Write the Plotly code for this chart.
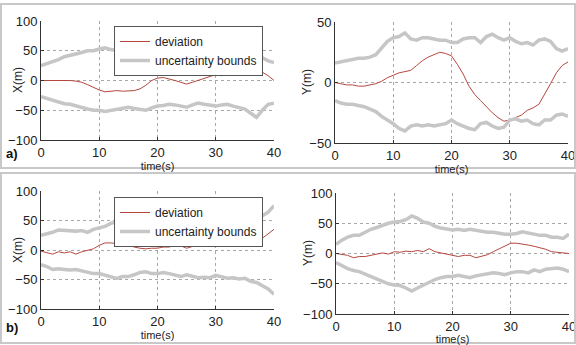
import plotly.graph_objects as go

t = list(range(41))

# a) X
dev_ax = [0, 0, 1, 0, 1, 0, -1, -3, -7, -12, -16, -19, -18, -17, -18, -18, -17, -14, -8, 0,
          4, 5, 3, 0, -3, -6, -3, 0, 3, 6, 10, 8, 12, 16, 19, 23, 26, 20, 15, 8, 0]
up_ax = [25, 28, 32, 35, 40, 42, 45, 47, 50, 50, 53, 55, 52, 50, 48, 47, 48, 49, 50, 47,
         44, 42, 41, 43, 45, 44, 40, 39, 41, 43, 42, 41, 40, 44, 47, 50, 55, 50, 38, 33, 30]
lo_ax = [-27, -30, -33, -37, -39, -40, -43, -46, -48, -50, -50, -52, -50, -48, -47, -45, -47, -48, -50, -46,
         -43, -42, -40, -41, -43, -45, -41, -38, -40, -42, -43, -41, -40, -43, -46, -48, -55, -62, -50, -40, -38]

# a) Y
dev_ay = [0, -1, -2, -2, -3, -3, -2, -1, 1, 4, 6, 8, 9, 10, 14, 18, 21, 23, 25, 24,
          22, 15, 7, -3, -10, -15, -20, -25, -29, -32, -31, -29, -27, -23, -21, -18, -10, -1, 8, 14, 17]
up_ay = [16, 17, 18, 19, 20, 20, 21, 23, 28, 34, 37, 38, 41, 36, 35, 37, 37, 36, 35, 35,
         33, 33, 36, 37, 37, 33, 38, 40, 37, 35, 37, 34, 32, 33, 31, 35, 36, 34, 28, 26, 28]
lo_ay = [-15, -17, -18, -18, -19, -20, -22, -24, -28, -31, -34, -38, -40, -36, -35, -36, -35, -36, -35, -34,
         -31, -34, -36, -38, -39, -34, -33, -36, -38, -37, -31, -30, -32, -31, -34, -35, -31, -31, -27, -26, -28]

# b) X
dev_bx = [-2, -4, -7, -3, -5, -3, -7, -3, 0, 2, 8, 12, 12, 11, 12, 8, 5, 3, 2, 3,
          3, 5, 5, 8, 7, 3, 6, 11, 18, 17, 17, 15, 17, 12, 14, 15, 20, 22, 20, 27, 35]
up_bx = [25, 27, 30, 34, 33, 32, 32, 33, 30, 35, 38, 40, 45, 48, 46, 45, 42, 40, 38, 40,
         40, 39, 40, 43, 45, 43, 44, 47, 46, 47, 44, 45, 48, 47, 49, 48, 52, 55, 58, 64, 75]
lo_bx = [-25, -28, -33, -32, -33, -34, -33, -35, -38, -40, -40, -43, -46, -48, -45, -45, -42, -38, -37, -40,
         -40, -38, -40, -43, -45, -42, -44, -47, -46, -47, -43, -45, -48, -47, -49, -48, -53, -55, -60, -66, -75]

# b) Y
dev_by = [0, -1, -3, -7, -5, -5, -3, -2, 1, -1, 3, 2, 4, 3, 5, 3, 8, 3, 1, -1,
          -2, -5, -3, -3, -7, -4, -2, 3, 8, 13, 17, 17, 16, 14, 12, 10, 7, 3, 2, 0, 0]
up_by = [15, 22, 27, 30, 30, 35, 40, 43, 47, 50, 52, 53, 56, 62, 58, 52, 50, 45, 42, 40,
         39, 40, 38, 40, 38, 37, 35, 35, 33, 32, 32, 33, 36, 34, 32, 30, 30, 27, 27, 25, 32]
lo_by = [-15, -20, -25, -28, -30, -34, -38, -42, -46, -50, -52, -53, -57, -62, -57, -52, -48, -43, -40, -38,
         -38, -36, -38, -40, -37, -35, -33, -32, -33, -35, -32, -30, -30, -32, -27, -30, -26, -25, -24, -26, -30]

x_ticks = [0, 10, 20, 30, 40]
names = ["deviation", "uncertainty bounds"]
y_titles = ["X(m)", "Y(m)", "X(m)", "Y(m)"]
x_title = "time(s)"
panel_labels = ["a)", "b)"]

RED = "#b5473f"
GRAY = "#c6c6c6"
FONT = "Liberation Sans"

W, H = 576, 345
def px(x):
    return x / W
def py(y):
    return 1 - y / H

panels = [
    (dev_ax, up_ax, lo_ax, (41, 274), (21, 140), [-100, 100], [-100, -50, 0, 50, 100], (18, 80), "legend"),
    (dev_ay, up_ay, lo_ay, (335, 568), (22, 143), [-50, 50], [-50, 0, 50], (307, 82), None),
    (dev_bx, up_bx, lo_bx, (41, 274), (191, 309), [-100, 100], [-100, -50, 0, 50, 100], (18, 250), "legend2"),
    (dev_by, up_by, lo_by, (336, 569), (193, 314), [-100, 100], [-100, -50, 0, 50, 100], (308, 253), None),
]

fig = go.Figure()
layout = dict(
    width=W, height=H, margin=dict(l=0, r=0, t=0, b=0, autoexpand=False),
    paper_bgcolor="white", plot_bgcolor="white",
    font=dict(family=FONT, size=12, color="#222"),
)
annotations = []

for i, (dev, up, lo, xd, yd, yr, yt, ytpos, leg) in enumerate(panels):
    n = "" if i == 0 else str(i + 1)
    xa, ya = "x" + n, "y" + n
    show = leg is not None
    lg = leg if leg else "legend"
    fig.add_trace(go.Scatter(x=t, y=dev, mode="lines", name=names[0], xaxis=xa, yaxis=ya,
                             line=dict(color=RED, width=1), showlegend=show, legend=lg, legendrank=1))
    fig.add_trace(go.Scatter(x=t, y=up, mode="lines", name=names[1], xaxis=xa, yaxis=ya,
                             line=dict(color=GRAY, width=3.5), showlegend=show, legend=lg, legendrank=2))
    fig.add_trace(go.Scatter(x=t, y=lo, mode="lines", name=names[1], xaxis=xa, yaxis=ya,
                             line=dict(color=GRAY, width=3.5), showlegend=False, legend=lg))
    layout["xaxis" + n] = dict(
        domain=[px(xd[0]), px(xd[1])], anchor=ya, range=[0, 40], tickvals=x_ticks,
        showgrid=True, gridcolor="#a8a8a8", griddash="dot", gridwidth=1,
        showline=True, linecolor="#333", linewidth=1, zeroline=False,
        ticks="inside", ticklen=3, tickcolor="#333", automargin=False,
        ticklabeloverflow="allow",
        tickfont=dict(family=FONT, size=13, color="#222"),
        title=dict(text=x_title, font=dict(family=FONT, size=11, color="#222"), standoff=0),
    )
    layout["yaxis" + n] = dict(
        domain=[py(yd[1]), py(yd[0])], anchor=xa, range=yr, tickvals=yt,
        showgrid=True, gridcolor="#a8a8a8", griddash="dot", gridwidth=1,
        showline=True, linecolor="#333", linewidth=1, zeroline=False,
        ticks="inside", ticklen=3, tickcolor="#333", automargin=False,
        tickfont=dict(family=FONT, size=13, color="#222"),
    )
    annotations.append(dict(text=y_titles[i], xref="paper", yref="paper", x=px(ytpos[0]), y=py(ytpos[1]),
                            xanchor="center", yanchor="middle", textangle=-90, showarrow=False,
                            font=dict(family=FONT, size=12, color="#222")))

leg_common = dict(
    bgcolor="white", bordercolor="#555", borderwidth=1,
    font=dict(family=FONT, size=12, color="#222"),
    xanchor="left", yanchor="top", tracegroupgap=0, itemwidth=30,
)
layout["legend"] = dict(x=px(114), y=py(26), **leg_common)
layout["legend2"] = dict(x=px(114), y=py(197), **leg_common)

shapes = []
for (y0, y1) in [(4, 168), (173, 343)]:
    shapes.append(dict(type="rect", xref="paper", yref="paper", x0=px(1), x1=px(575),
                       y0=py(y1), y1=py(y0), line=dict(color="#c8c8c8", width=2)))
layout["shapes"] = shapes
for lab, yy in zip(panel_labels, [154, 327]):
    annotations.append(dict(text="<b>" + lab + "</b>", xref="paper", yref="paper", x=px(4), y=py(yy),
                            xanchor="left", yanchor="middle", showarrow=False,
                            font=dict(family=FONT, size=13, color="#111")))
layout["annotations"] = annotations

fig.update_layout(**layout)
fig.write_html("out.html", config={"displayModeBar": False},
               post_script="document.body.style.margin='0';document.body.style.overflow='hidden';")
